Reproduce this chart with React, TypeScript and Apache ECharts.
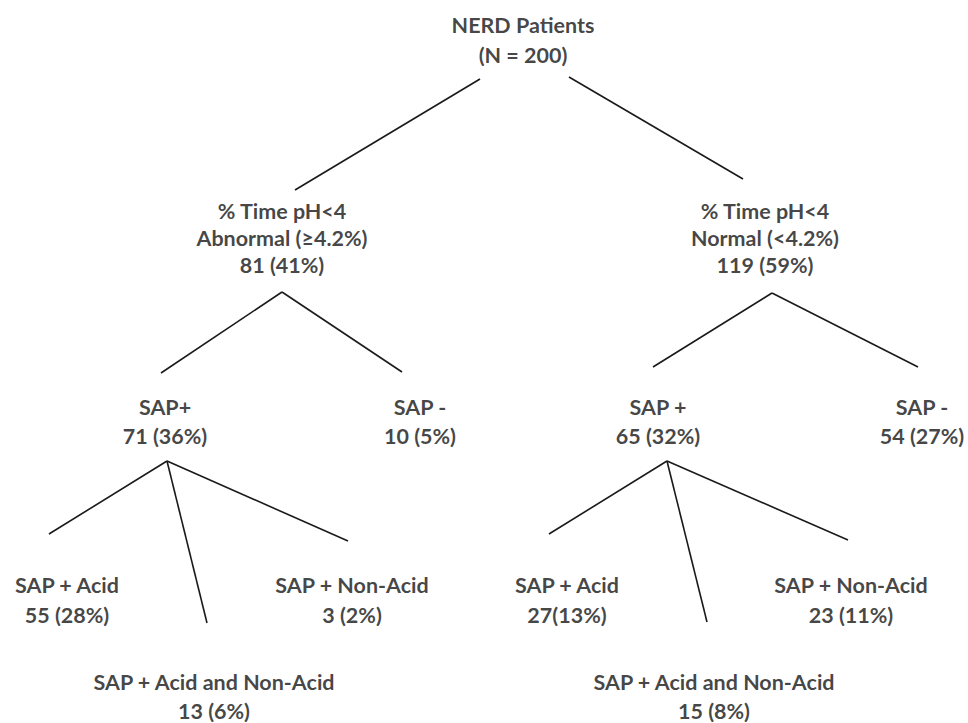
import React, { useEffect, useRef } from "react";
import * as echarts from "echarts";

// ---- Data: tree nodes (labels and counts) ----
const nodeNames: string[][] = [
  ["NERD Patients"],
  ["% Time pH<4", "Abnormal (≥4.2%)"],
  ["% Time pH<4", "Normal (<4.2%)"],
  ["SAP+"],
  ["SAP -"],
  ["SAP +"],
  ["SAP -"],
  ["SAP + Acid"],
  ["SAP + Acid and Non-Acid"],
  ["SAP + Non-Acid"],
  ["SAP + Acid"],
  ["SAP + Acid and Non-Acid"],
  ["SAP + Non-Acid"],
];
const nodeCounts: string[] = [
  "(N = 200)",
  "81 (41%)",
  "119 (59%)",
  "71 (36%)",
  "10 (5%)",
  "65 (32%)",
  "54 (27%)",
  "55 (28%)",
  "13 (6%)",
  "3 (2%)",
  "27(13%)",
  "15 (8%)",
  "23 (11%)",
];
const edgeParents: number[] = [0, 0, 1, 1, 2, 2, 3, 3, 3, 5, 5, 5];
const edgeChildren: number[] = [1, 2, 3, 4, 5, 6, 7, 8, 9, 10, 11, 12];

// ---- Layout (pixel-like coordinates on hidden value axes) ----
const nodeX: number[] = [523, 282, 765, 165, 420, 658, 922, 67, 214, 352, 567, 714, 851];
const nodeY: number[] = [40, 238, 238, 421, 421, 421, 421, 600, 696, 600, 600, 696, 600];
const nodeLineHeight: number[] = [30, 27, 27, 29, 29, 29, 29, 30, 29, 30, 30, 29, 30];
const edgeStart: number[][] = [
  [480, 79], [569, 77],
  [282, 292], [282, 292],
  [772, 293], [772, 293],
  [167, 461], [167, 461], [167, 461],
  [667, 461], [667, 461], [667, 461],
];
const edgeEnd: number[][] = [
  [295, 190], [743, 179],
  [161, 373], [402, 372],
  [653, 367], [918, 367],
  [49, 534], [207, 623], [348, 541],
  [549, 534], [707, 622], [848, 540],
];

const W = 968;
const H = 723;

export default function App() {
  const ref = useRef<HTMLDivElement>(null);
  useEffect(() => {
    if (!ref.current) return;
    const chart = echarts.init(ref.current, undefined, { renderer: "svg" });
    const nodeData = nodeNames.map((names, i) => ({
      value: [nodeX[i], nodeY[i]],
      label: {
        lineHeight: nodeLineHeight[i],
        formatter: [...names, nodeCounts[i]].join("\n"),
      },
    }));
    const edgeData = edgeParents.map((p, i) => ({
      name: `${p}-${edgeChildren[i]}`,
      coords: [edgeStart[i], edgeEnd[i]],
    }));
    chart.setOption({
      animation: false,
      backgroundColor: "#ffffff",
      grid: { left: 0, right: 0, top: 0, bottom: 0 },
      xAxis: { type: "value", min: 0, max: W, show: false },
      yAxis: { type: "value", min: 0, max: H, inverse: true, show: false },
      series: [
        {
          type: "lines",
          coordinateSystem: "cartesian2d",
          polyline: false,
          silent: true,
          lineStyle: { color: "#1a1a1a", width: 1.6, opacity: 1 },
          data: edgeData,
        },
        {
          type: "scatter",
          symbolSize: 0,
          silent: true,
          label: {
            show: true,
            position: "inside",
            align: "center",
            verticalAlign: "middle",
            color: "#141414",
            fontFamily: "Lato",
            fontWeight: "bold",
            fontSize: 21.5,
          },
          data: nodeData,
        },
      ],
    });
    return () => chart.dispose();
  }, []);
  return (
    <div
      ref={ref}
      style={{ position: "absolute", left: 0, top: 0, width: W, height: H, background: "#fff" }}
    />
  );
}
